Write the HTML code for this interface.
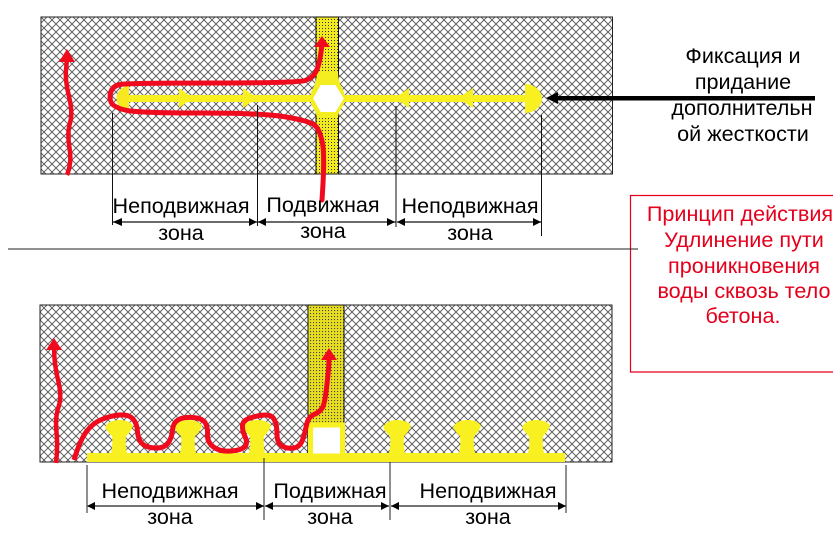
<!DOCTYPE html>
<html><head><meta charset="utf-8"><style>
html,body{margin:0;padding:0;background:#fff;width:833px;height:539px;overflow:hidden}
svg{display:block;position:absolute;left:0;top:0}
text{font-family:"Liberation Sans",sans-serif;font-size:21.6px;text-anchor:middle;fill:#000}
.r{fill:#e4001c}
</style></head><body>
<svg width="833" height="539" viewBox="0 0 833 539" xmlns="http://www.w3.org/2000/svg">
<defs>
<pattern id="h" width="8" height="8" patternUnits="userSpaceOnUse">
<rect width="8" height="8" fill="#fff"/>
<path d="M-1,-1L9,9M-1,9L9,-1M-1,7L1,9M7,-1L9,1M7,9L9,7M-1,1L1,-1" stroke="#6a6a6a" stroke-width="1" fill="none" shape-rendering="crispEdges"/>
</pattern>
<pattern id="d" width="3" height="3" patternUnits="userSpaceOnUse">
<rect width="3" height="3" fill="#f2ea20"/>
<rect x="1" y="1" width="1" height="1" fill="#333"/>
</pattern>
<pattern id="d2" width="3" height="3" patternUnits="userSpaceOnUse">
<rect width="3" height="3" fill="#e8de20"/>
<rect x="1" y="1" width="1.100" height="1.100" fill="#444"/>
</pattern>
<path id="s" d="M-14,427Q-10,420 0,420Q11,420 14,426Q11,433 7,436Q6,445 8,453H-8Q-6,445 -7,436Q-11,433 -14,427Z" fill="#f8f020"/>
</defs>

<!-- top block -->
<rect x="41" y="17" width="571.500" height="157" fill="url(#h)" stroke="#222" stroke-width="1"/>
<rect x="316" y="17" width="22.500" height="157" fill="url(#d)" stroke="#111" stroke-width="1"/>
<path d="M317,72Q317,82 311,92L311,104Q316,112 317,118H338Q338,112 344,104L344,92Q338,82 338,72Z" fill="#f4ee20"/>
<rect x="125" y="95" width="402" height="7" fill="#f8f020"/>
<path d="M129,85A17,14 0 0 0 129,112Z" fill="#f8e820"/>
<path d="M525,84A17,14.500 0 0 1 525,113Z" fill="#f8f020"/>
<path d="M179,88L193,98L179,108Z M243,88L257,98L243,108Z" fill="#f8f020"/>
<path d="M409,88L395,98L409,108Z M473,88L458,98L473,108Z" fill="#f8f020"/>
<path d="M312,98.500L320,84H336L345,98.500L336,113H320Z" fill="#fff" stroke="#f4ee20" stroke-width="2"/>

<path d="M322,200Q325,157 322.500,143.500Q320,130 315,125.500Q310,121 286,117Q263,113 200,113Q137,113 125,110Q113,107 111,102Q109,97 111,91.500Q113,86 120,84.500Q127,83 212,83Q297,83 305,80.500Q313,78 316.500,70.500Q320,63 322,44" fill="none" stroke="#f00a1e" stroke-width="5" stroke-linecap="round"/>
<path d="M322,36L330,47H314Z" fill="#f00a1e"/>
<path d="M67,175Q72,163 69.500,148Q67,133 70,123Q73,113 69,96.500Q65,80 66,70Q67,60 67,55" fill="none" stroke="#f00a1e" stroke-width="4.500"/>
<path d="M67,49L75,62H59Z" fill="#f00a1e"/>

<!-- top dims -->
<g stroke="#111" stroke-width="1" fill="none">
<path d="M112.500,113V225M257.500,105V226M396,106V227M541.500,115V236"/>
<path d="M113,222H257M258,222H396M397,222H541" stroke-width="1.300"/>
</g>
<path d="M113,222L122,218V226Z M257,222L249,218V226Z M258,222L266,218V226Z M395,222L387,218V226Z M397,222L405,218V226Z M541,222L533,218V226Z" fill="#000"/>
<text x="181" y="213">Неподвижная</text>
<text x="181" y="240">зона</text>
<text x="323" y="212">Подвижная</text>
<text x="323" y="238">зона</text>
<text x="470" y="213">Неподвижная</text>
<text x="470" y="240">зона</text>

<!-- black arrow -->
<rect x="552" y="96" width="263" height="4.500" fill="#000"/>
<path d="M546,98L558,92V104Z" fill="#000"/>
<text x="743" y="63">Фиксация и</text>
<text x="743" y="89">придание</text>
<text x="742" y="115">дополнительн</text>
<text x="743" y="141">ой жесткости</text>

<!-- red box -->
<path d="M833,195.500H630.500V372H833" fill="#fff" stroke="#e4001c" stroke-width="1.200"/>
<!-- separator -->
<path d="M8,249H638" stroke="#222" stroke-width="1"/>
<text class="r" x="740" y="221">Принцип действия</text>
<text class="r" x="744" y="247">Удлинение пути</text>
<text class="r" x="744" y="273">проникновения</text>
<text class="r" x="744" y="298">воды сквозь тело</text>
<text class="r" x="743" y="323">бетона.</text>

<!-- bottom block -->
<rect x="40" y="305" width="572" height="157" fill="url(#h)" stroke="#222" stroke-width="1"/>
<rect x="308" y="305" width="36" height="118" fill="url(#d2)" stroke="#111" stroke-width="1"/>
<path d="M308,423V453" stroke="#111" stroke-width="1.200"/>
<rect x="87" y="453" width="478" height="9" fill="#f8f020"/>
<rect x="310.500" y="425" width="32" height="31" fill="#fff" stroke="#f8f020" stroke-width="5"/>
<use href="#s" x="119"/><use href="#s" x="188"/><use href="#s" x="257"/><use href="#s" x="397"/><use href="#s" x="467"/><use href="#s" x="536"/>
<path d="M74,460Q80,440 86.500,431.500Q93,423 101.500,419.500Q110,416 119,415Q128,414 132.500,418.500Q137,423 137.500,431.500Q138,440 142.500,444Q147,448 156,448Q165,448 168.500,442.500Q172,437 172.500,430Q173,423 178,420Q183,417 192.500,417.500Q202,418 205,422.500Q208,427 207.500,434.500Q207,442 213.500,447Q220,452 231,451Q242,450 245,446.500Q248,443 245,436.500Q242,430 242.500,425Q243,420 251.500,417.500Q260,415 266,415Q272,415 274.500,420Q277,425 277,434Q277,443 282,446Q287,449 293.500,448Q300,447 302.500,440Q305,433 306.500,425Q308,417 314,414.500Q320,412 322.500,407.500Q325,403 327,384Q329,367 329,358" fill="none" stroke="#f00a1e" stroke-width="5"/>
<path d="M329,348L337,360H321Z" fill="#f00a1e"/>
<path d="M56,463Q58,447 56.500,432Q55,417 58.500,407Q62,397 58.500,382Q55,367 54.500,358Q54,350 54,345" fill="none" stroke="#f00a1e" stroke-width="4.500"/>
<path d="M54,338L62,350H46Z" fill="#f00a1e"/>

<!-- bottom dims -->
<g stroke="#222" stroke-width="1" fill="none">
<path d="M87,465V513M264,458V520M390,462V520M566,465V513"/>
<path d="M88,506H264M265,506H389M391,506H566" stroke-width="1.300"/>
</g>
<path d="M87,506L95,502V510Z M264,506L256,502V510Z M265,506L273,502V510Z M389,506L381,502V510Z M391,506L399,502V510Z M566,506L558,502V510Z" fill="#000"/>
<text x="170" y="498">Неподвижная</text>
<text x="170" y="524">зона</text>
<text x="330" y="498">Подвижная</text>
<text x="330" y="524">зона</text>
<text x="488" y="498">Неподвижная</text>
<text x="488" y="524">зона</text>
</svg>
</body></html>
